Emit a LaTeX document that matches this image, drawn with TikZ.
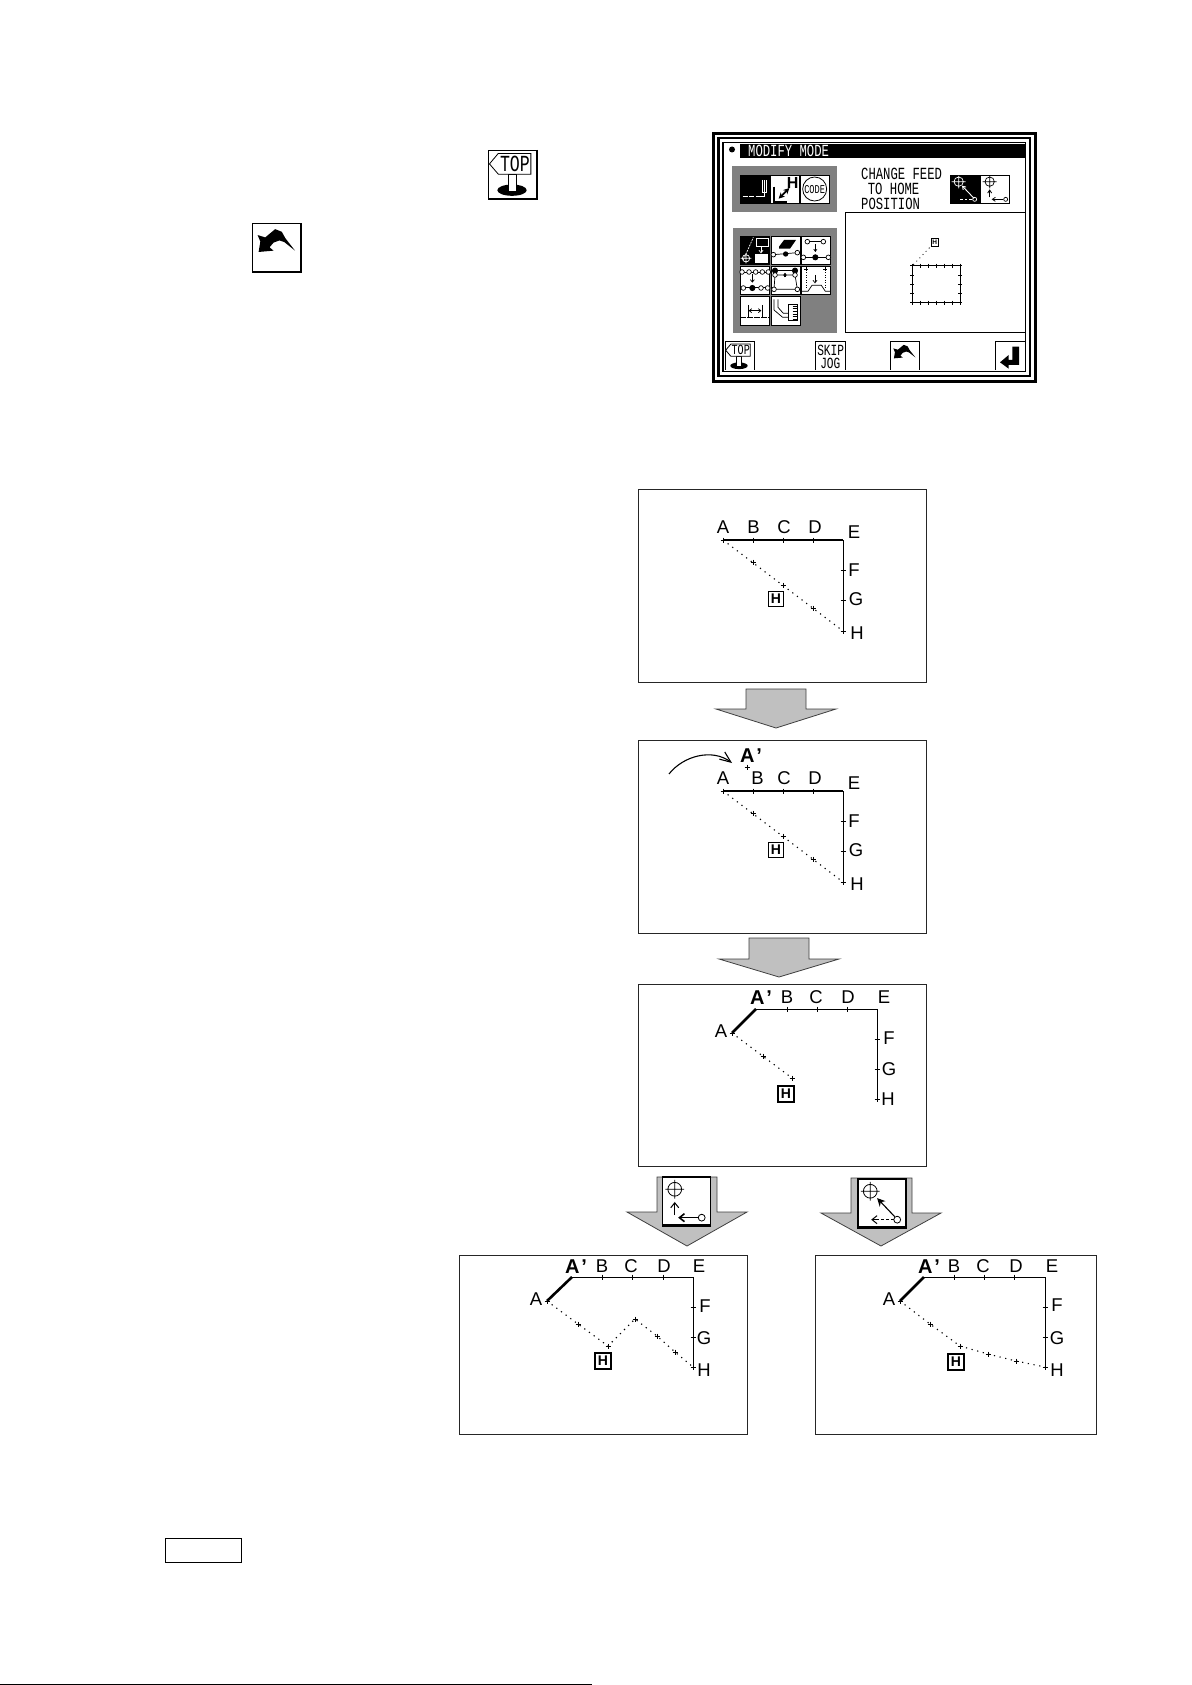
\documentclass[tikz,border=0pt]{standalone}
\usepackage{fontspec}
\setmainfont{Liberation Sans}
\newfontfamily\lcd[FakeStretch=0.72]{Liberation Mono}
\usetikzlibrary{arrows.meta}
\definecolor{blockgray}{HTML}{C0C0C0}
\definecolor{dith}{HTML}{808080}
\tikzset{
  plab/.style={inner sep=0pt,font=\fontsize{18.5}{18.5}\selectfont},
  plabb/.style={inner sep=0pt,font=\fontsize{20}{20}\selectfont\bfseries},
  hbox/.style={draw,line width=1.2pt,inner sep=0pt,minimum size=15pt,font=\fontsize{14}{14}\selectfont\bfseries,fill=white},
  hboxb/.style={hbox,line width=2pt,minimum size=16pt},
  panel/.style={draw=black!85,line width=1pt,fill=white},
  blockarrow/.style={draw=black!75,line width=.8pt,fill=blockgray},
  tk/.style={line width=.8pt},
  axisthick/.style={line width=1.8pt},
  axisthin/.style={line width=1pt},
  feed/.style={line width=1.1pt,dash pattern=on 1.2pt off 4.6pt},
  moved/.style={line width=2.6pt},
  lcdtxt/.style={inner sep=0pt,anchor=west,font=\lcd\fontsize{17}{17}\selectfont},
  btn/.style={draw,line width=.8pt,fill=white},
  zm/.style={shift={(700,120)},x=0.33333pt,y=-0.33333pt},
  zn/.style={shift={(720,230)},x=0.33333pt,y=-0.33333pt},
  thn/.style={line width=.7pt},
  ring/.style={draw,line width=.7pt,fill=white,radius=7},
  ringf/.style={draw,line width=.7pt,fill=black,radius=8},
}
\newcommand{\tick}[1]{\draw[tk] (#1) +(-2.5,0) -- +(2.5,0) (#1) +(0,-2.5) -- +(0,2.5);}
\newcommand{\iconback}[3]{\begin{scope}[shift={(#1,#2)},x=#3pt,y=-#3pt]
  \fill (.115,.236)--(.27,.284)--(.473,.115)--(.608,.169)--(.68,.3)--(.878,.554)--(.66,.38)--(.56,.345)--(.44,.39)--(.358,.486)--(.44,.554)--(.135,.581)--(.17,.37)--cycle;
\end{scope}}
\newcommand{\icontop}[4]{\begin{scope}[shift={(#1,#2)},x=#3pt,y=-#3pt]
  \fill (.5,.82) ellipse [x radius=.3,y radius=.115];
  \draw[line width=.8pt,fill=white] (.42,.49) rectangle (.58,.84);
  \draw[line width=.8pt,fill=white] (.22,.07)--(.885,.07)--(.885,.493)--(.22,.493)--(.04,.284)--cycle;
  \node[inner sep=0pt,font=\lcd\fontsize{#4}{#4}\selectfont] at (.56,.285) {TOP};
\end{scope}}
\newcommand{\iconL}[4]{\begin{scope}[shift={(#1,#2)},x=#3pt,y=-#3pt]
  \draw[line width=.8pt] (.26,.26) circle (.14) (.07,.26)--(.45,.26) (.26,.07)--(.26,.45);
  \draw[line width=1pt,-{Straight Barb[length=5pt,width=8pt]}] (.26,.79)--(.26,.52);
  \draw[line width=#4pt,-{Straight Barb[length=5pt,width=8pt]}] (.74,.84)--(.33,.84);
  \draw[line width=.8pt,fill=white] (.81,.84) circle (.07);
\end{scope}}
\newcommand{\iconD}[4]{\begin{scope}[shift={(#1,#2)},x=#3pt,y=-#3pt]
  \draw[line width=.8pt] (.26,.26) circle (.14) (.07,.26)--(.45,.26) (.26,.07)--(.26,.45);
  \draw[line width=#4pt,-{Stealth[length=8pt,width=8pt]}] (.76,.78)--(.4,.4);
  \draw[line width=1.1pt,dash pattern=on 3pt off 2pt] (.74,.84)--(.36,.84);
  \draw[line width=1pt,-{Straight Barb[length=5pt,width=8pt]}] (.38,.84)--(.28,.84);
  \draw[line width=.8pt,fill=white] (.81,.84) circle (.07);
\end{scope}}
\begin{document}
\begin{tikzpicture}[x=1pt,y=-1pt]
\useasboundingbox[fill=white] (0,0) rectangle (1191,1685);

% ---------- stand-alone icons
\node[draw,line width=1pt,fill=white,minimum size=48pt,inner sep=0pt] (iconTop) at (512,174.5) {};
\draw[line width=2pt] (iconTop.north east)--(iconTop.south east)--(iconTop.south west);
\icontop{487.5}{150}{49}{23}
\node[draw,line width=1pt,fill=white,minimum size=48pt,inner sep=0pt] (iconBack) at (276,248) {};
\draw[line width=2pt] (iconBack.north east)--(iconBack.south east)--(iconBack.south west);
\iconback{252}{223.5}{49}

% ---------- machine screen
\draw[line width=3pt] (713.5,133.5) rectangle (1035,381.5);
\draw[line width=2.5pt] (718.5,138) rectangle (1030,376);
\draw[line width=1.5pt] (723,142.5) rectangle (1025.5,371.5);
\fill (732,149.5) circle (3);
\node[fill=black,minimum width=285pt,minimum height=14pt,inner sep=0pt,anchor=west] (titlebar) at (740,151) {};
\node[lcdtxt,text=white] (title) at (748,151) {MODIFY MODE};
\fill[dith] (732,166) rectangle (837,212);
\fill[dith] (733,228) rectangle (837,333);

\begin{scope}[zm]
  % top button row
  \draw[btn,fill=black] (120,165) rectangle (208,250);
  \draw[btn] (212,165) rectangle (298,250);
  \draw[btn] (300,165) rectangle (388,250);
  \draw[white,line width=1.2pt,dash pattern=on 5pt off 1.5pt] (128,229)--(180,229);
  \draw[white,line width=.9pt] (180,229)--(192,229)--(192,180) (186,180)--(186,218)--(198,218)--(198,180);
  \draw[line width=1.8pt] (221,200)--(221,245)--(262,245);
  \draw[line width=1.8pt,{Stealth[length=6pt,width=6pt]}-{Stealth[length=6pt,width=6pt]}] (236,236)--(268,204);
  \node[inner sep=0pt,font=\fontsize{16}{16}\selectfont\bfseries] (btnH) at (278,188) {H};
  \draw[line width=.8pt] (344,207) circle (36);
  \node[inner sep=0pt,font=\lcd\fontsize{12}{12}\selectfont] (btnCode) at (344,208) {CODE};
  % change-feed selectors
  \node[lcdtxt] (chg) at (483,162) {CHANGE FEED};
  \node[lcdtxt] (toh) at (503,207) {TO HOME};
  \node[lcdtxt] (pos) at (483,253) {POSITION};
  \draw[btn,fill=black] (752,165) rectangle (838,250);
  \draw[btn] (840,165) rectangle (928,250);
  \draw[white,line width=.7pt] (776,185) circle (14) (755,185)--(797,185) (776,168)--(776,205);
  \draw[white,line width=.9pt,-{Straight Barb[length=3pt,width=4pt]}] (822,235)--(786,197);
  \draw[white,line width=.9pt,dash pattern=on 2.5pt off 2pt] (815,238)--(780,238);
  \draw[white,line width=.7pt] (824,238) circle (6);
  \draw[line width=.7pt] (869,185) circle (14) (848,185)--(890,185) (869,168)--(869,205);
  \draw[line width=.8pt,-{Straight Barb[length=3pt,width=4pt]}] (869,232)--(869,208);
  \draw[line width=.8pt,-{Straight Barb[length=3pt,width=4pt]}] (910,238)--(875,238);
  \draw[line width=.7pt] (917,238) circle (6);
  % display
  \draw[line width=.9pt,fill=white] (975,277)--(436,277)--(436,636)--(975,636);
  \node[draw,line width=.8pt,minimum size=7.5pt,inner sep=0pt,font=\fontsize{6.5}{6.5}\selectfont\bfseries] (scrH) at (704,367) {H};
  \coordinate (scrA) at (640,434);
  \draw[line width=.8pt,dash pattern=on .9pt off 3.6pt] (scrA)--(scrH);
  \draw[line width=1pt] (636,437) rectangle (780,548);
  \foreach \i in {0,...,6} {
    \draw[line width=.7pt] (636+\i*24,431)--(636+\i*24,443) (636+\i*24,542)--(636+\i*24,554);
  }
  \foreach \j in {0,...,4} {
    \draw[line width=.7pt] (630,437+\j*27.75)--(642,437+\j*27.75) (774,437+\j*27.75)--(786,437+\j*27.75);
  }
  % bottom row
  \draw[line width=1pt] (75,750)--(75,665)--(162,665)--(162,750);
  \draw[line width=1pt] (346,750)--(346,665)--(435,665)--(435,750);
  \draw[line width=1pt] (571,750)--(571,665)--(658,665)--(658,750);
  \draw[line width=1pt] (886,750)--(886,665)--(975,665);
  \node[inner sep=0pt,font=\lcd\fontsize{15.5}{15.5}\selectfont] (skip) at (392,692) {SKIP};
  \node[inner sep=0pt,font=\lcd\fontsize{15.5}{15.5}\selectfont] (jog) at (391,729) {JOG};
  \fill (957,680)--(937,680)--(937,720)--(926,720)--(926,705)--(900,727)--(926,746)--(926,735)--(957,735)--cycle;
\end{scope}
\icontop{724.5}{342}{29}{14}
\iconback{890}{341.5}{29}

\begin{scope}[zn]
  % grid of function buttons
  \foreach \cx/\cxx in {60/148,153/240,243/331} {
    \foreach \cy/\cyy in {18/104,108/194} {
      \draw[btn] (\cx,\cy) rectangle (\cxx,\cyy);
    }
  }
  \draw[btn] (60,198) rectangle (148,285);
  \draw[btn] (153,198) rectangle (240,285);
  % b1 (selected)
  \draw[btn,fill=black] (60,18) rectangle (148,104);
  \draw[white,line width=.7pt,dash pattern=on 2pt off 1pt] (70,90)--(100,22);
  \draw[white,line width=.7pt] (108,24) rectangle (145,50);
  \fill[white] (106,72) rectangle (145,98);
  \draw[white,line width=.7pt,-{Straight Barb[length=2.5pt,width=4pt]}] (123,50)--(123,70);
  \draw[white,line width=.7pt] (78,85) circle (11) (62,85)--(94,85) (78,70)--(78,100);
  % b2
  \fill (177,50)--(192,30)--(228,30)--(210,56)--(177,56)--cycle;
  \draw[thn] (160,74)--(232,68);
  \fill (197,72) circle (8);
  \draw[ring] (160,74) circle;
  \draw[ring] (232,68) circle;
  % b3
  \draw[thn] (262,35)--(310,35) (250,82)--(325,82);
  \draw[ring] (262,35) circle; \draw[ring] (310,35) circle;
  \draw[line width=1.2pt,-{Stealth[length=3pt,width=4pt]}] (286,42)--(286,66);
  \draw[ring] (250,82) circle; \draw[ring] (325,82) circle; \draw[ringf] (286,82) circle;
  % b4
  \draw[thn] (66,126)--(145,126) (66,173)--(145,173);
  \foreach \p in {66,87,107,127,145} {\draw[ring] (\p,126) circle;}
  \draw[thn,-{Straight Barb[length=2.5pt,width=4pt]}] (97,133)--(97,158);
  \draw[ring] (70,174) circle; \draw[ring] (123,174) circle; \draw[ring] (143,174) circle; \draw[ringf] (97,174) circle;
  % b5
  \draw[thn] (165,135) -- (225,135) -- (232,178) -- (162,178) -- cycle;
  \draw[ringf] (165,122) circle; \draw[ringf] (225,122) circle; \draw[thn] (165,122)--(225,122);
  \draw[line width=1.2pt,-{Stealth[length=3pt,width=4pt]}] (195,142)--(195,128);
  \draw[ring] (165,135) circle; \draw[ring] (225,135) circle; \draw[ring] (162,178) circle; \draw[ring] (232,178) circle;
  % b6
  \draw[line width=.6pt,dash pattern=on 1pt off 1.5pt] (258,120)--(258,180) (315,120)--(315,180);
  \draw[thn] (252,118)--(264,118) (258,112)--(258,124) (309,118)--(321,118) (315,112)--(315,124);
  \draw[thn,-{Straight Barb[length=2.5pt,width=4pt]}] (285,135)--(285,160);
  \draw[thn] (246,184)--(264,184)--(276,166)--(304,166)--(316,184)--(330,184);
  % b7
  \draw[thn] (84,225)--(84,262) (126,225)--(126,262);
  \draw[thn,{Straight Barb[length=2.5pt,width=4pt]}-{Straight Barb[length=2.5pt,width=4pt]}] (86,242)--(124,242);
  \draw[line width=1.2pt,dash pattern=on 6pt off 1pt] (60,262)--(148,262);
  % b8
  \draw[thn] (162,208)--(162,240)--(188,262)--(205,262);
  \draw[thn] (174,208)--(174,232)--(190,250)--(205,250);
  \draw[thn] (205,222) rectangle (232,272);
  \foreach \t in {228,236,244,252,260,268} {\draw[thn] (218,\t)--(232,\t);}
\end{scope}

% ---------- panel 1
\node[panel,minimum width=288pt,minimum height=193pt,inner sep=0pt,anchor=north west] (panelA) at (638,489) {};
\coordinate (aA) at (723,540); \coordinate (aE) at (843,540); \coordinate (aH) at (843,631);
\coordinate (aB) at (753,540); \coordinate (aC) at (783,540); \coordinate (aD) at (813,540);
\coordinate (aF) at (843,570); \coordinate (aG) at (843,600);
\coordinate (a1) at (753,562); \coordinate (a2) at (783,585); \coordinate (a3) at (813,608);
\draw[axisthick] (aA)--(aE);
\draw[axisthin] (aE)--(aH);
\draw[feed] (aA)--(aH);
\foreach \c in {aA,aB,aC,aD,aF,aG,aH,a1,a2,a3} {\tick{\c}}
\node[plab] (aLa) at (723,527) {A};
\node[plab] (aLb) at (753.5,527) {B};
\node[plab] (aLc) at (784,527) {C};
\node[plab] (aLd) at (815,527) {D};
\node[plab] (aLe) at (854,532) {E};
\node[plab] (aLf) at (854,570) {F};
\node[plab] (aLg) at (856,599) {G};
\node[plab] (aLh) at (857,633) {H};
\node[hbox] (aHb) at (776,599) {H};

\draw[blockarrow] (746,689)--(806,689)--(806,709)--(836,709)--(776,728)--(716,709)--(746,709)--cycle;

% ---------- panel 2
\node[panel,minimum width=288pt,minimum height=193pt,inner sep=0pt,anchor=north west] (panelB) at (638,740) {};
\coordinate (bA) at (723,791); \coordinate (bE) at (843,791); \coordinate (bH) at (843,882);
\coordinate (bB) at (753,791); \coordinate (bC) at (783,791); \coordinate (bD) at (813,791);
\coordinate (bF) at (843,821); \coordinate (bG) at (843,851);
\coordinate (b1) at (753,813); \coordinate (b2) at (783,836); \coordinate (b3) at (813,859);
\coordinate (bP) at (747,767);
\draw[axisthick] (bA)--(bE);
\draw[axisthin] (bE)--(bH);
\draw[feed] (bA)--(bH);
\foreach \c in {bA,bB,bC,bD,bF,bG,bH,b1,b2,b3,bP} {\tick{\c}}
\node[plab] (bLa) at (723,778) {A};
\node[plab] (bLb) at (757.5,778) {B};
\node[plab] (bLc) at (784,778) {C};
\node[plab] (bLd) at (815,778) {D};
\node[plab] (bLe) at (854,783) {E};
\node[plab] (bLf) at (854,821) {F};
\node[plab] (bLg) at (856,850) {G};
\node[plab] (bLh) at (857,884) {H};
\node[plabb] (bLp) at (751,756) {A\kern2pt’};
\node[hbox] (bHb) at (776,850) {H};
\coordinate (cvS) at (669,774); \coordinate (cvE) at (732,763);
\draw[line width=1.1pt,-{Straight Barb[length=11pt,width=9pt]}] (cvS) .. controls (683,756) and (712,748) .. (cvE);

\draw[blockarrow] (749,938)--(809,938)--(809,959)--(839,959)--(779,977)--(719,959)--(749,959)--cycle;

% ---------- panel 3
\node[panel,minimum width=288pt,minimum height=182pt,inner sep=0pt,anchor=north west] (panelC) at (638,984) {};
\coordinate (cA) at (732,1033); \coordinate (cAp) at (756,1009); \coordinate (cE) at (877,1009); \coordinate (cH) at (877,1099);
\coordinate (cB) at (787,1009); \coordinate (cC) at (817,1009); \coordinate (cD) at (847,1009);
\coordinate (cF) at (877,1039); \coordinate (cG) at (877,1069);
\coordinate (c1) at (763,1056); \coordinate (cEnd) at (792,1078);
\draw[moved] (cA)--(cAp);
\draw[axisthin] (cAp)--(cE)--(cH);
\draw[feed] (cA)--(cEnd);
\foreach \c in {cA,cB,cC,cD,cF,cG,cH,c1,cEnd} {\tick{\c}}
\node[plab] (cLa) at (721,1031) {A};
\node[plabb] (cLp) at (761,998) {A\kern2pt’};
\node[plab] (cLb) at (787,997) {B};
\node[plab] (cLc) at (816,997) {C};
\node[plab] (cLd) at (848,997) {D};
\node[plab] (cLe) at (884,997) {E};
\node[plab] (cLf) at (889,1038) {F};
\node[plab] (cLg) at (889,1069) {G};
\node[plab] (cLh) at (888,1099) {H};
\node[hboxb] (cHb) at (786,1094) {H};

% ---------- branch arrows with icons
\draw[blockarrow] (657,1177)--(717,1177)--(717,1212)--(747,1212)--(687,1246)--(627,1212)--(657,1212)--cycle;
\node[draw,line width=1.4pt,fill=white,minimum size=48pt,inner sep=0pt] (iconLeft) at (686.5,1201) {};
\draw[line width=2.6pt] (iconLeft.south east)--(iconLeft.south west);
\iconL{662}{1176.5}{49}{1.6}
\draw[blockarrow] (851,1178)--(912,1178)--(912,1213)--(941,1213)--(881,1246)--(821,1213)--(851,1213)--cycle;
\node[draw,line width=1.4pt,fill=white,minimum size=48pt,inner sep=0pt] (iconRight) at (882,1203) {};
\draw[line width=2.6pt] (iconRight.south east)--(iconRight.south west);
\iconD{857.5}{1178.5}{49}{1.1}

% ---------- panel 4
\node[panel,minimum width=288pt,minimum height=179pt,inner sep=0pt,anchor=north west] (panelD) at (459,1255) {};
\coordinate (dA) at (547,1301); \coordinate (dAp) at (572,1277); \coordinate (dE) at (693,1277); \coordinate (dH) at (693,1367);
\coordinate (dB) at (602,1277); \coordinate (dC) at (632,1277); \coordinate (dD) at (663,1277);
\coordinate (dF) at (693,1307); \coordinate (dG) at (693,1337);
\coordinate (d1) at (578,1324); \coordinate (d2) at (608,1346); \coordinate (d3) at (635,1319);
\coordinate (d4) at (657,1336); \coordinate (d5) at (675,1352);
\draw[moved] (dA)--(dAp);
\draw[axisthin] (dAp)--(dE)--(dH);
\draw[feed] (dA)--(d1)--(d2)--(d3)--(d4)--(d5)--(dH);
\foreach \c in {dA,dB,dC,dD,dF,dG,dH,d1,d2,d3,d4,d5} {\tick{\c}}
\node[plab] (dLa) at (536,1299) {A};
\node[plabb] (dLp) at (576,1267) {A\kern2pt’};
\node[plab] (dLb) at (602,1266) {B};
\node[plab] (dLc) at (631,1266) {C};
\node[plab] (dLd) at (664,1266) {D};
\node[plab] (dLe) at (699,1266) {E};
\node[plab] (dLf) at (705,1306) {F};
\node[plab] (dLg) at (704,1338) {G};
\node[plab] (dLh) at (704,1370) {H};
\node[hboxb] (dHb) at (603,1361) {H};

% ---------- panel 5
\node[panel,minimum width=281pt,minimum height=179pt,inner sep=0pt,anchor=north west] (panelE) at (815,1255) {};
\coordinate (eA) at (900,1301); \coordinate (eAp) at (924,1277); \coordinate (eE) at (1045,1277); \coordinate (eH) at (1045,1367);
\coordinate (eB) at (954,1277); \coordinate (eC) at (984,1277); \coordinate (eD) at (1014,1277);
\coordinate (eF) at (1045,1307); \coordinate (eG) at (1045,1337);
\coordinate (e1) at (930,1324); \coordinate (e2) at (960,1346); \coordinate (e3) at (988,1354); \coordinate (e4) at (1016,1361);
\draw[moved] (eA)--(eAp);
\draw[axisthin] (eAp)--(eE)--(eH);
\draw[feed] (eA)--(e1)--(e2)--(e3)--(e4)--(eH);
\foreach \c in {eA,eB,eC,eD,eF,eG,eH,e1,e2,e3,e4} {\tick{\c}}
\node[plab] (eLa) at (889,1299) {A};
\node[plabb] (eLp) at (929,1267) {A\kern2pt’};
\node[plab] (eLb) at (954,1266) {B};
\node[plab] (eLc) at (983,1266) {C};
\node[plab] (eLd) at (1016,1266) {D};
\node[plab] (eLe) at (1052,1266) {E};
\node[plab] (eLf) at (1057,1305) {F};
\node[plab] (eLg) at (1057,1338) {G};
\node[plab] (eLh) at (1057,1370) {H};
\node[hboxb] (eHb) at (956,1362) {H};

% ---------- empty label box and foot rule
\node[draw,line width=1pt,minimum width=76pt,minimum height=24pt,inner sep=0pt,anchor=north west] (noteBox) at (165,1538) {};
\coordinate (ruleL) at (0,1684); \coordinate (ruleR) at (592,1684);
\draw[line width=1pt] (ruleL)--(ruleR);
\end{tikzpicture}
\end{document}
